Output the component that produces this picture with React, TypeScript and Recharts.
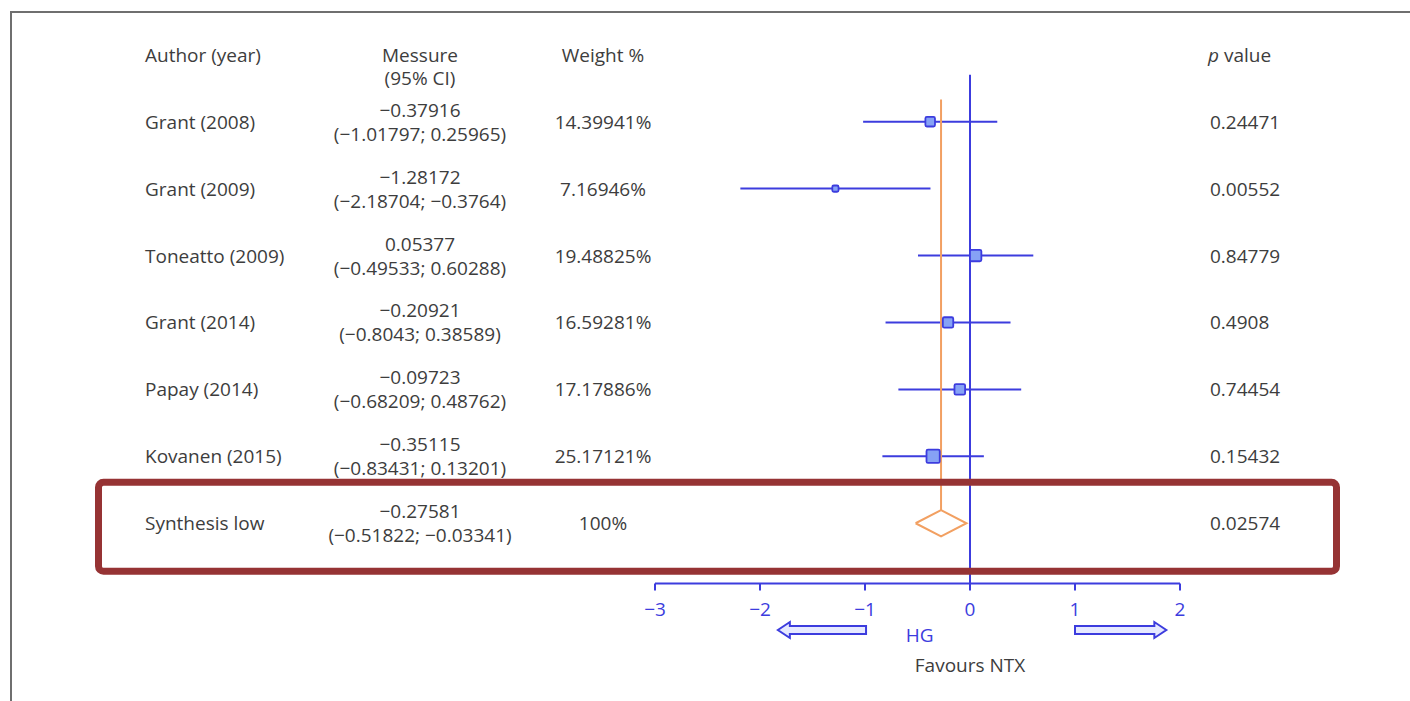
import React from "react";
import { ComposedChart, XAxis, YAxis, Scatter, ReferenceLine } from "recharts";

const authors = ["Grant (2008)", "Grant (2009)", "Toneatto (2009)", "Grant (2014)", "Papay (2014)", "Kovanen (2015)"];
const estimates = [-0.37916, -1.28172, 0.05377, -0.20921, -0.09723, -0.35115];
const ciLow = [-1.01797, -2.18704, -0.49533, -0.8043, -0.68209, -0.83431];
const ciHigh = [0.25965, -0.3764, 0.60288, 0.38589, 0.48762, 0.13201];
const weights = [14.39941, 7.16946, 19.48825, 16.59281, 17.17886, 25.17121];
const pValues = ["0.24471", "0.00552", "0.84779", "0.4908", "0.74454", "0.15432"];

const synthLabel = "Synthesis low";
const synthEst = -0.27581;
const synthLow = -0.51822;
const synthHigh = -0.03341;
const synthWeight = 100;
const synthP = "0.02574";

const xTicks = [-3, -2, -1, 0, 1, 2];
const xDomain: [number, number] = [-3, 2];
const rowTicks = [-1, 0, 1, 2, 3, 4, 5, 6];
const synthRow = 6;

const BLUE = "#3c3cde";
const ORANGE = "#f2a062";
const TEXT = "#3d3d3d";
const RED = "#963334";
const FONT = "'Open Sans', 'Noto Sans', sans-serif";

const fmt = (v: number) => (v < 0 ? "\u2212" : "") + String(Math.abs(v));

const squares = estimates.map((e, i) => ({ x: e, y: i, w: weights[i] }));
const DH = 0.195;
const diamond = [
  { x: synthLow, y: synthRow },
  { x: synthEst, y: synthRow - DH },
  { x: synthHigh, y: synthRow },
  { x: synthEst, y: synthRow + DH },
  { x: synthLow, y: synthRow },
];

const SquareShape = (p: any) => {
  const s = 3 * Math.sqrt(p.payload.w) - 1.8;
  return (
    <rect x={p.cx - s / 2} y={p.cy - s / 2} width={s} height={s} rx={1.5}
      fill="#86a2f5" stroke={BLUE} strokeWidth={1.8} />
  );
};

const RowTick = (props: any) => {
  const { y, payload } = props;
  const r = payload.value;
  const t = { fontFamily: FONT, fontSize: 19, fill: TEXT, dominantBaseline: "central" as const };
  if (r === -1) {
    return (
      <g>
        <text x={145} y={y} {...t}>Author (year)</text>
        <text x={420} y={y} textAnchor="middle" {...t}>Messure</text>
        <text x={420} y={y + 23} textAnchor="middle" {...t}>(95% CI)</text>
        <text x={603} y={y} textAnchor="middle" {...t}>Weight %</text>
        <text x={1208} y={y} {...t}><tspan fontStyle="italic">p</tspan> value</text>
      </g>
    );
  }
  const isSynth = r === synthRow;
  const name = isSynth ? synthLabel : authors[r];
  const est = isSynth ? synthEst : estimates[r];
  const lo = isSynth ? synthLow : ciLow[r];
  const hi = isSynth ? synthHigh : ciHigh[r];
  const w = isSynth ? synthWeight : weights[r];
  const p = isSynth ? synthP : pValues[r];
  return (
    <g>
      <text x={145} y={y} {...t}>{name}</text>
      <text x={420} y={y - 12} textAnchor="middle" {...t}>{fmt(est)}</text>
      <text x={420} y={y + 12} textAnchor="middle" {...t}>{`(${fmt(lo)}; ${fmt(hi)})`}</text>
      <text x={603} y={y} textAnchor="middle" {...t}>{`${w}%`}</text>
      <text x={1210} y={y} {...t}>{p}</text>
      {isSynth && (
        <rect x={98.5} y={y - 41} width={1238} height={89} rx={5}
          fill="none" stroke={RED} strokeWidth={7} />
      )}
    </g>
  );
};

const AxisNotes = (props: any) => {
  const vb = props.viewBox && props.viewBox.width ? props.viewBox : { x: 655, y: 583.5, width: 525, height: 117.5 };
  const px = (v: number) => vb.x + ((v - xDomain[0]) / (xDomain[1] - xDomain[0])) * vb.width;
  const cy = vb.y + 46.5;
  const L = px(-1.83), LT = px(-0.99);
  const R = px(1.87), RT = px(1.0);
  const hl = 12, sh = 4, hh = 8;
  const left = `M${L},${cy} L${L + hl},${cy - hh} L${L + hl},${cy - sh} L${LT},${cy - sh} L${LT},${cy + sh} L${L + hl},${cy + sh} L${L + hl},${cy + hh} Z`;
  const right = `M${R},${cy} L${R - hl},${cy - hh} L${R - hl},${cy - sh} L${RT},${cy - sh} L${RT},${cy + sh} L${R - hl},${cy + sh} L${R - hl},${cy + hh} Z`;
  return (
    <g>
      <path d={left} fill="#e6e9ff" stroke={BLUE} strokeWidth={2} strokeLinejoin="miter" />
      <path d={right} fill="#e6e9ff" stroke={BLUE} strokeWidth={2} strokeLinejoin="miter" />
      <text x={px(-0.48)} y={vb.y + 51} textAnchor="middle" dominantBaseline="central"
        fontFamily={FONT} fontSize={19} fill={BLUE}>HG</text>
      <text x={px(0)} y={vb.y + 81} textAnchor="middle" dominantBaseline="central"
        fontFamily={FONT} fontSize={19} fill={TEXT}>Favours NTX</text>
    </g>
  );
};

export default function App() {
  return (
    <div style={{ position: "relative", width: 1410, height: 701, background: "#fff", overflow: "hidden" }}>
      <style>{"body{margin:0;}"}</style>
      <div style={{ position: "absolute", left: 9.5, top: 10.5, right: -10, bottom: -10,
        borderTop: "2.5px solid #6f6f6f", borderLeft: "2.5px solid #6f6f6f" }} />
      <div style={{ position: "absolute", left: 0, top: 0 }}>
        <ComposedChart width={1410} height={701} margin={{ top: 21.3, right: 230, bottom: 0, left: 0 }}>
          <XAxis type="number" dataKey="x" domain={xDomain} ticks={xTicks} interval={0}
            allowDataOverflow stroke={BLUE} strokeWidth={2}
            tickLine={{ stroke: BLUE, strokeWidth: 2 }} tickSize={7} tickMargin={12}
            tick={{ fill: BLUE, fontSize: 19, fontFamily: FONT }}
            tickFormatter={(v: number) => fmt(v)} height={117.5}
            label={<AxisNotes />} />
          {ciLow.map((lo, i) => (
            <ReferenceLine key={`ci${i}`} segment={[{ x: lo, y: i }, { x: ciHigh[i], y: i }]}
              stroke={BLUE} strokeWidth={2} />
          ))}
          <ReferenceLine segment={[{ x: 0, y: -0.7 }, { x: 0, y: 6.9 }]} stroke={BLUE} strokeWidth={2} />
          <ReferenceLine segment={[{ x: synthEst, y: -0.33 }, { x: synthEst, y: synthRow - DH }]}
            stroke={ORANGE} strokeWidth={2} />
          <Scatter data={diamond} line={{ stroke: ORANGE, strokeWidth: 2 }} shape={() => <g />}
            isAnimationActive={false} />
          <Scatter data={squares} shape={SquareShape} isAnimationActive={false} />
          <YAxis type="number" dataKey="y" domain={[-1.5, 6.9]} reversed ticks={rowTicks} interval={0}
            allowDataOverflow axisLine={false} tickLine={false} width={655}
            tick={(p: any) => <RowTick {...p} />} />
        </ComposedChart>
      </div>
    </div>
  );
}
